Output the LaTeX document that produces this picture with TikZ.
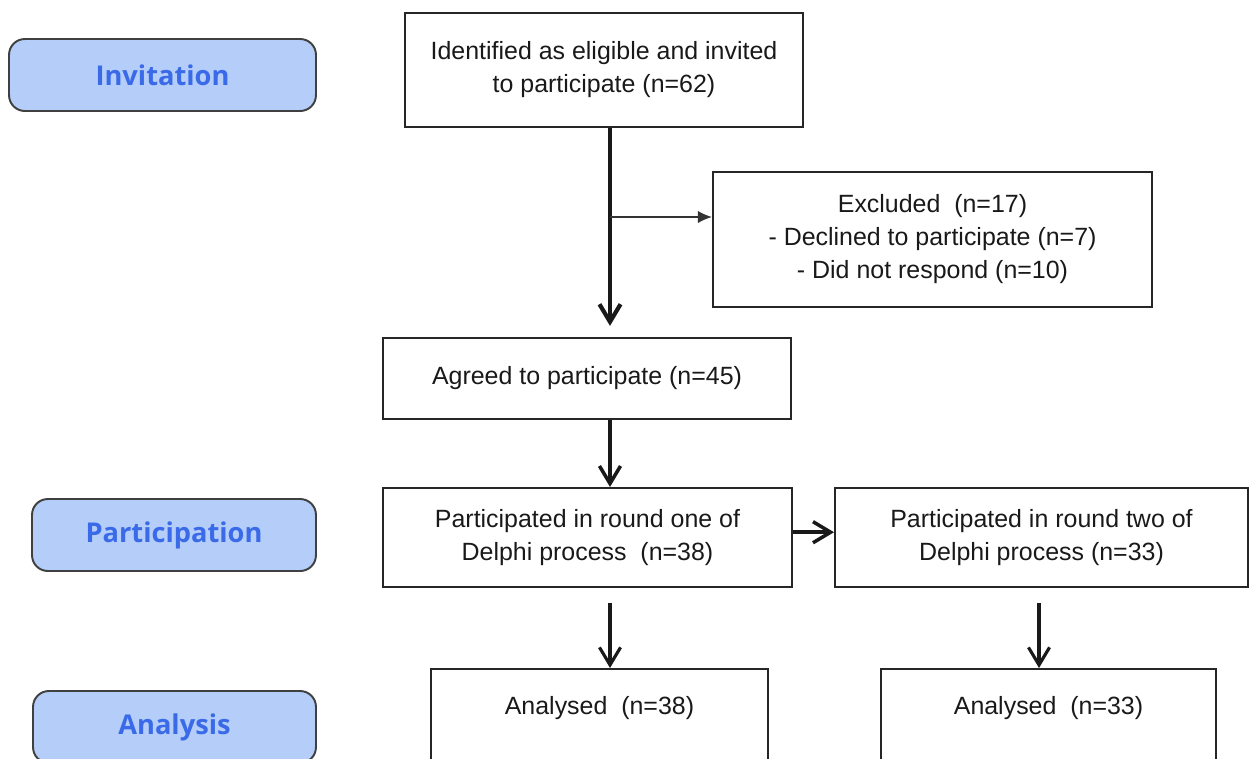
\documentclass[tikz,border=0pt]{standalone}
\usepackage{fontspec}
\setmainfont{Liberation Sans}
\newfontfamily\labelfont{Open Sans}
\usetikzlibrary{arrows.meta}

\definecolor{phaseblue}{RGB}{180,206,249}
\definecolor{phasetext}{RGB}{58,106,232}

\begin{document}
\begin{tikzpicture}[x=0.02cm, y=-0.02cm]
    \useasboundingbox (0,0) rectangle (1250,758);
    \clip (0,0) rectangle (1250,758);

    \tikzset{PhaseStyle/.style={draw=black!75, line width=1.1pt, fill=phaseblue, rounded corners=9pt,
        text=phasetext, font=\labelfont\bfseries\fontsize{15.5}{18}\selectfont, minimum height=1.44cm}}
    \tikzset{BoxStyle/.style={draw=black!85, line width=1.2pt, align=center, text=black!90,
        font=\fontsize{14.2}{18.8}\selectfont}}
    \tikzset{EdgeStyle/.style={-{Straight Barb[length=10pt,width=12pt]}, line width=2pt, black!90}}

    % phases on the left
    \node[PhaseStyle, minimum width=6.14cm] (Invitation) at (162.5,75) {Invitation};
    \node[PhaseStyle, minimum width=5.68cm] (Participation) at (174,535) {Participation};
    \node[PhaseStyle, minimum width=5.66cm] (Analysis) at (174.5,727) {Analysis};

    \node[BoxStyle, minimum width=7.96cm, minimum height=2.28cm] (Invited) at (604,70)
        {Identified as eligible and invited\\to participate (n=62)};
    \node[BoxStyle, minimum width=8.78cm, minimum height=2.7cm] (Excluded) at (932.5,239.5)
        {Excluded~~(n=17)\\- Declined to participate (n=7)\\- Did not respond (n=10)};
    \node[BoxStyle, minimum width=8.16cm, minimum height=1.62cm] (Agreed) at (587,378.5)
        {Agreed to participate (n=45)};
    \node[BoxStyle, minimum width=8.18cm, minimum height=1.98cm] (RoundOne) at (587.5,537.5)
        {Participated in round one of\\Delphi process~~(n=38)};
    \node[BoxStyle, minimum width=8.26cm, minimum height=1.98cm] (RoundTwo) at (1041.5,537.5)
        {Participated in round two of\\Delphi process (n=33)};

    \tikzset{BoxStyle/.append style={anchor=north, inner ysep=0pt, text height=26pt, text depth=40pt}}
    \node[BoxStyle, minimum width=6.74cm] (AnalysedOne) at (599.5,668) {Analysed~~(n=38)};
    \node[BoxStyle, minimum width=6.7cm] (AnalysedTwo) at (1048.5,668) {Analysed~~(n=33)};

    \coordinate (Spine) at (610,0);
    \coordinate (ExclIn) at (Excluded.west |- 0,217);

    \draw[EdgeStyle, line width=2.4pt, shorten >=6.3pt] (Invited.south -| Spine) -- (Agreed.north -| Spine);
    \draw[-{Latex[length=8pt,width=7pt]}, line width=0.9pt, black!80] (ExclIn -| Spine) -- (ExclIn);
    \draw[EdgeStyle] (Agreed.south -| Spine) -- (RoundOne.north -| Spine);
    \draw[EdgeStyle] ([yshift=3pt]RoundOne.east) -- ([yshift=3pt]RoundTwo.west);
    \draw[EdgeStyle, line width=1.8pt, shorten <=8.5pt] (RoundOne.south -| Spine) -- (AnalysedOne.north -| Spine);
    \draw[EdgeStyle, line width=1.8pt, shorten <=8.5pt] (RoundTwo.south -| 1039,0) -- (AnalysedTwo.north -| 1039,0);
\end{tikzpicture}
\end{document}
